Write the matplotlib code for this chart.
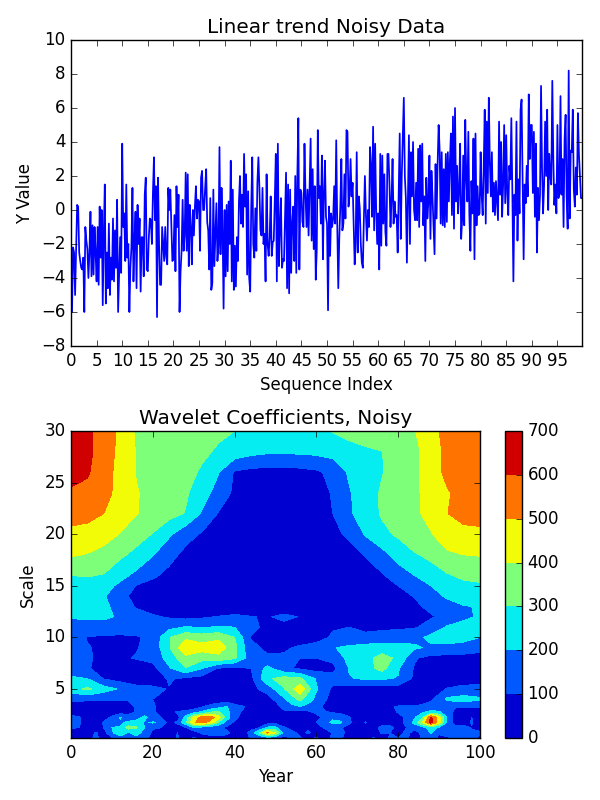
import numpy as np
import matplotlib
matplotlib.use("Agg")
import matplotlib.pyplot as plt

plt.style.use("classic")
plt.rcParams["font.family"] = "DejaVu Sans"

noisy_values = [
    -3.0,-6.0,-2.2,-2.5,-5.0,
    -2.4,0.3,0.2,-2.5,-3.0,
    -3.4,-3.5,-2.8,-6.0,-1.0,
    -1.8,-2.3,-4.0,-2.5,-0.1,
    -3.9,-0.9,-3.8,-1.0,-2.5,
    -4.2,-1.0,-4.4,0.2,-2.8,
    0.0,-5.6,-1.5,1.5,-5.5,
    -2.5,-4.6,-0.8,-5.0,-2.8,
    -4.1,-0.5,-4.2,-1.2,-3.4,
    0.6,-6.0,-3.7,-1.6,-3.7,
    3.9,-1.0,-0.2,-3.0,1.5,
    -2.8,-2.0,-6.0,-3.4,-2.2,
    1.3,-4.2,-1.8,-0.1,-4.6,
    0.3,-2.0,-0.5,-4.8,-1.6,
    -1.6,-3.9,0.9,1.9,-3.5,
    -3.6,-1.6,-0.5,-0.6,-2.0,
    1.0,3.1,-0.6,1.4,-6.3,
    1.9,-2.0,-4.4,-4.4,-1.0,
    -2.0,-3.0,-1.0,-2.7,-3.2,
    1.3,0.0,1.2,-1.0,-3.0,
    -2.9,-0.3,-3.6,1.4,-1.0,
    0.9,-6.0,-3.6,-2.4,0.6,
    -2.4,-1.5,2.2,-2.4,2.1,
    -3.3,0.3,-1.0,-3.2,0.0,
    -1.5,0.2,1.4,-0.5,0.6,
    0.5,-2.4,1.9,2.3,0.0,
    0.0,1.3,2.4,-0.7,-1.2,
    -3.5,0.7,-4.7,-4.3,1.2,
    -3.3,-1.5,0.4,-3.0,-2.0,
    3.7,-2.6,1.3,-1.0,-5.8,
    0.0,-3.9,0.3,-3.6,0.5,
    -2.0,2.9,-4.2,1.2,-4.7,
    -2.1,-4.5,-1.6,-3.0,0.5,
    2.0,-0.8,0.9,-1.0,3.3,
    0.2,2.1,-3.8,1.1,-4.0,
    -4.8,0.2,3.1,-2.0,-2.8,
    0.1,-2.4,1.6,3.1,1.3,
    -1.2,-1.5,1.3,-2.0,-1.4,
    -4.2,2.1,-2.0,-2.7,-1.6,
    0.8,-2.7,-1.9,-1.8,0.6,
    3.3,-4.2,3.9,-3.3,-1.0,
    0.7,-3.4,-2.9,-3.0,-0.5,
    2.2,-4.6,1.5,-4.9,1.2,
    -3.7,-0.8,0.2,-3.0,2.0,
    -3.7,1.9,5.4,-3.5,1.2,
    1.0,-0.7,-1.0,3.9,0.9,
    -1.0,1.2,-1.5,1.3,4.2,
    -1.8,2.4,-2.3,1.4,-4.1,
    -2.3,4.7,0.7,1.4,-0.8,
    3.2,-2.9,1.0,2.9,-0.4,
    -0.8,-5.9,0.2,-2.7,-0.2,
    -1.0,-0.5,1.4,-0.8,4.1,
    -0.9,-4.6,-1.6,0.2,3.0,
    -1.2,-0.8,2.1,-0.5,4.7,
    4.6,0.2,0.9,3.0,0.8,
    1.6,-0.8,-3.2,-1.9,3.4,
    -2.5,0.8,0.1,-2.0,-3.1,
    -3.4,-0.5,2.0,-0.3,-1.8,
    0.0,-1.0,3.7,2.6,-0.4,
    4.9,-1.2,3.9,0.0,-2.0,
    -0.2,-3.5,3.3,-2.1,3.2,
    -0.8,2.1,-1.3,-2.1,3.3,
    3.3,1.5,-1.0,0.6,3.0,
    -0.8,0.5,-0.4,-0.3,-2.5,
    0.9,4.5,-1.7,2.0,4.4,
    6.6,2.0,0.7,-3.1,0.6,
    4.4,-2.0,3.4,0.8,4.0,
    0.0,-0.6,1.6,-0.6,3.6,
    -1.0,3.8,0.5,3.9,-0.9,
    0.8,-3.0,1.9,-0.5,0.5,
    3.2,-1.7,2.3,0.8,-0.9,
    -2.6,2.7,-0.5,2.7,5.0,
    3.5,-0.8,3.4,-0.9,2.4,
    -1.0,3.3,-0.7,3.4,0.5,
    2.9,4.5,-0.3,5.5,-1.1,
    6.0,0.5,2.6,-0.2,1.2,
    3.9,-1.7,-0.5,3.2,-0.9,
    5.3,1.9,0.5,4.6,-0.3,
    -2.4,1.7,-0.2,4.2,-2.9,
    4.5,-0.9,1.4,-0.3,-0.2,
    3.4,0.9,-0.3,2.5,5.9,
    -0.8,5.2,1.0,6.6,2.8,
    0.8,3.4,-0.1,1.6,-0.3,
    1.7,0.6,-0.6,5.2,0.9,
    4.0,-0.4,1.5,5.0,0.4,
    4.4,1.0,-0.3,2.6,1.8,
    5.4,1.0,-4.2,0.9,-0.3,
    5.2,-1.8,1.8,-0.2,5.9,
    6.5,2.0,-2.9,1.5,0.4,
    2.6,0.8,6.8,3.0,5.0,
    5.0,1.0,4.6,-0.4,3.9,
    -2.5,1.3,-0.6,0.9,7.3,
    2.4,-0.2,1.5,5.2,2.0,
    5.9,0.0,3.3,2.0,1.5,
    7.6,3.0,0.3,1.5,-0.2,
    5.0,0.7,1.0,6.7,0.9,
    3.0,-1.0,4.2,5.6,0.8,
    -1.1,8.2,-0.5,3.5,3.4,
    5.9,1.2,0.2,2.5,0.9,
    5.7,3.3,2.0,0.7,0.7,
]
sequence_index = [i / 5 for i in range(len(noisy_values))]
seq_ticks = list(range(0, 100, 5))
value_ticks = list(range(-8, 11, 2))

# upper part of the wavelet power map
year_upper = list(range(0, 101, 4))
scale_upper = [4, 5, 6, 7, 8, 9, 10, 11, 12, 13, 14, 15, 16, 18, 20, 22, 24, 26, 28, 30]
power_upper = [
    [120,115,115,110,105,100,85,45,35,30,30,40,60,180,330,170,60,45,40,40,40,45,85,220,240,215],
    [250,320,240,190,130,120,95,70,55,40,40,70,140,290,470,210,80,60,50,50,45,50,60,105,130,135],
    [225,200,95,60,50,50,110,80,60,45,40,70,280,340,320,190,140,195,210,210,195,80,55,50,50,50],
    [115,105,80,60,60,70,190,295,205,95,75,100,230,120,85,60,70,205,255,335,210,90,60,60,60,55],
    [120,105,90,90,105,130,240,370,335,365,315,140,110,115,100,100,130,230,270,335,280,110,70,70,70,65],
    [130,105,85,80,95,130,290,480,440,460,330,120,85,85,115,140,195,220,235,250,240,215,185,165,150,130],
    [140,95,85,80,90,125,295,380,350,380,300,95,60,45,50,60,115,125,130,140,150,170,225,260,240,200],
    [175,165,165,160,150,135,170,205,195,205,200,130,70,60,60,50,90,100,70,80,85,90,140,210,240,250],
    [205,215,215,190,140,110,90,70,85,105,125,105,90,130,95,40,25,25,30,40,50,65,90,130,175,215],
    [240,235,220,165,90,65,45,30,20,15,10,8,8,10,20,15,15,20,30,40,60,80,125,160,195,205],
    [255,245,210,130,70,45,30,20,12,10,8,6,6,8,10,12,15,20,30,45,70,105,160,215,245,255],
    [275,270,235,180,95,70,50,30,20,12,8,6,6,8,10,15,20,30,45,70,100,150,200,240,275,285],
    [300,305,295,230,175,115,75,45,25,15,10,8,8,8,10,15,25,40,60,90,150,200,250,290,320,330],
    [410,395,360,320,270,205,130,75,45,20,15,12,12,12,15,25,40,70,105,165,240,290,325,385,400,405],
    [470,465,450,395,345,295,215,135,90,40,25,20,20,20,25,40,80,115,210,275,315,365,395,450,465,470],
    [545,530,500,450,405,365,335,295,190,95,50,40,40,40,45,60,100,185,250,310,345,385,425,498,540,550],
    [580,575,530,470,405,375,345,315,240,165,80,60,55,55,60,75,105,190,260,310,340,385,430,490,535,550],
    [650,610,545,465,395,370,345,325,290,205,90,70,65,65,70,85,125,215,270,295,340,385,440,530,555,565],
    [680,620,560,470,395,375,350,335,315,290,260,230,215,215,218,225,240,260,280,298,340,380,440,530,560,570],
    [695,620,560,480,385,370,360,345,330,315,300,275,260,250,255,280,305,335,360,375,385,395,470,530,560,580],
]

# lower part of the map, where the detail is finer
year_lower = list(range(0, 101, 2))
scale_lower = [0.25, 0.75, 1.25, 1.75, 2.25, 2.75, 3.25, 4]
power_lower = [
    [60,70,60,120,60,90,150,110,180,120,70,80,50,110,60,110,60,60,40,50,40,50,110,115,140,140,
     60,100,110,60,110,50,120,110,50,40,45,110,50,110,100,110,60,110,140,80,90,120,110,120,80],
    [50,40,40,110,60,180,280,190,230,170,80,90,50,100,60,50,110,140,190,130,50,40,140,300,520,400,
     180,120,80,110,70,50,110,130,60,50,40,40,110,100,50,130,60,130,210,110,130,200,190,120,120],
    [110,100,45,40,100,200,210,340,310,200,110,100,50,40,90,180,150,110,110,80,50,40,60,100,220,230,
     110,70,60,90,60,110,120,110,60,40,40,50,140,130,60,100,130,160,250,180,90,130,140,90,50],
    [125,110,50,45,110,190,180,220,240,190,210,180,60,120,270,490,530,470,300,170,80,45,35,45,60,60,
     60,50,50,50,100,170,220,210,120,40,110,40,40,50,50,130,230,420,640,450,170,60,50,110,40],
    [130,110,60,50,60,120,210,140,150,230,130,100,40,50,240,430,540,550,450,250,130,60,40,35,40,50,
     50,60,70,90,60,130,180,170,110,40,40,100,40,40,50,120,190,300,620,450,180,60,50,100,40],
    [45,40,35,35,40,45,50,70,110,130,115,65,60,115,130,160,220,300,320,240,130,90,60,50,50,55,
     70,70,70,80,120,110,90,70,45,40,40,45,40,50,110,120,130,190,230,210,170,60,50,50,50],
    [50,45,40,35,35,40,45,60,115,125,120,60,40,30,30,60,100,130,170,210,140,110,60,50,45,40,
     140,170,190,160,130,80,50,40,35,35,35,35,35,90,110,115,110,120,140,150,110,105,100,100,100],
    [120,118,115,115,115,112,110,108,105,102,100,92,85,65,45,40,35,32,30,30,30,35,40,50,60,120,
     180,255,330,250,170,115,60,52,45,42,40,40,40,40,40,42,45,65,85,150,220,230,240,228,215],
]
power_levels = list(range(0, 701, 100))
power_ticks = list(range(0, 701, 100))
scale_ticks = [5, 10, 15, 20, 25, 30]
year_ticks = [0, 20, 40, 60, 80, 100]

fig = plt.figure(figsize=(6, 8), dpi=100, facecolor="white")

ax1 = fig.add_axes([71 / 600, 1 - 346 / 800, 511 / 600, 306 / 800])
ax1.plot(sequence_index, noisy_values, color="b", lw=1.25)
ax1.set_xlim(0, sequence_index[-1])
ax1.set_ylim(-8, 10)
ax1.set_xticks(seq_ticks)
ax1.set_yticks(value_ticks)
ax1.set_title("Linear trend Noisy Data", fontsize=14.4)
ax1.set_xlabel("Sequence Index")
ax1.set_ylabel("Y Value")

ax2 = fig.add_axes([71 / 600, 1 - 738 / 800, 409 / 600, 307 / 800])
cf = ax2.contourf(year_upper, scale_upper, power_upper, levels=power_levels, cmap="jet")
ax2.contourf(year_lower, scale_lower, power_lower, levels=power_levels, cmap="jet")
ax2.set_xlim(0, 100)
ax2.set_ylim(0.25, 30)
ax2.set_xticks(year_ticks)
ax2.set_yticks(scale_ticks)
ax2.set_title("Wavelet Coefficients, Noisy", fontsize=14.4)
ax2.set_xlabel("Year")
ax2.set_ylabel("Scale")

cax = fig.add_axes([505 / 600, 1 - 738 / 800, 17 / 600, 307 / 800])
cb = fig.colorbar(cf, cax=cax, ticks=power_ticks)

fig.savefig("out.png", dpi=100)
